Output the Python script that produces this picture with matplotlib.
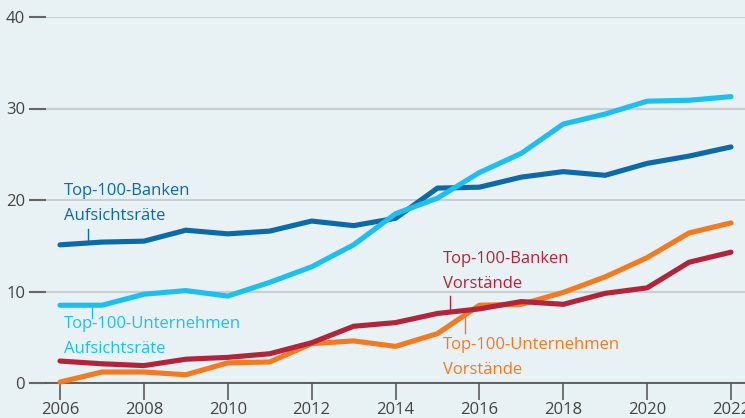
import matplotlib.pyplot as plt

# Anteil Frauen in Prozent
years = list(range(2006, 2023))
banken_ar = [15.1, 15.4, 15.5, 16.7, 16.3, 16.6, 17.7, 17.2, 18.0, 21.3, 21.4, 22.5, 23.1, 22.7, 24.0, 24.8, 25.8]
unt_ar = [8.5, 8.5, 9.7, 10.1, 9.5, 11.0, 12.7, 15.1, 18.5, 20.2, 23.0, 25.1, 28.3, 29.4, 30.8, 30.9, 31.3]
banken_vs = [2.4, 2.1, 1.9, 2.6, 2.8, 3.2, 4.4, 6.2, 6.6, 7.6, 8.1, 8.9, 8.6, 9.8, 10.4, 13.2, 14.3]
unt_vs = [0.1, 1.2, 1.2, 0.9, 2.2, 2.3, 4.3, 4.6, 4.0, 5.4, 8.5, 8.6, 9.9, 11.6, 13.7, 16.4, 17.5]

xticks = [2006, 2008, 2010, 2012, 2014, 2016, 2018, 2020, 2022]
yticks = [0, 10, 20, 30, 40]

c_dblue = '#0b6aa9'
c_lblue = '#1cc0f0'
c_red = '#b3243a'
c_orange = '#f47a20'
bg = '#e8f1f3'

plt.rcParams['font.family'] = ['Open Sans', 'DejaVu Sans']

fig = plt.figure(figsize=(7.45, 4.18), dpi=100, facecolor=bg)
ax = fig.add_axes([46/745, 35/418, 1 - 46/745, 366/418])
ax.set_facecolor(bg)

for vals, col in [(unt_vs, c_orange), (banken_vs, c_red), (banken_ar, c_dblue), (unt_ar, c_lblue)]:
    ax.plot(years, vals, color=col, lw=3.7, solid_capstyle='round', solid_joinstyle='round',
            clip_on=False, zorder=3)

ax.set_xlim(2006 - 14/41.94, 2022 + 14/41.94)
ax.set_ylim(0, 40)

ax.set_yticks(yticks)
ax.set_xticks(xticks)
ax.yaxis.grid(True, color='#c9cfd2', lw=1.6)
ax.set_axisbelow(True)
for s in ['top', 'right', 'left']:
    ax.spines[s].set_visible(False)
ax.spines['bottom'].set_color('#555555')
ax.spines['bottom'].set_linewidth(1.3)
ax.tick_params(axis='y', length=12, width=1.5, color='#666666', pad=3, labelsize=12, labelcolor='#444444')
ax.tick_params(axis='x', length=12, width=1.3, color='#666666', pad=2, labelsize=12, labelcolor='#444444')

# Beschriftungen
def label(x, y, txt, col):
    ax.text(x, y, txt, color=col, fontsize=12, ha='left', va='center', linespacing=1.75, zorder=4)

def leader(x, y0, y1, col):
    ax.plot([x, x], [y0, y1], color=col, lw=1, zorder=2)

label(2006.1, 19.6, 'Top-100-Banken\nAufsichtsräte', c_dblue)
leader(2006.67, 15.4, 16.8, c_dblue)

label(2006.1, 5.1, 'Top-100-Unternehmen\nAufsichtsräte', c_lblue)
leader(2006.76, 8.5, 7.1, c_lblue)

label(2015.13, 12.2, 'Top-100-Banken\nVorstände', c_red)
leader(2015.3, 7.9, 9.5, c_red)

label(2015.13, 2.8, 'Top-100-Unternehmen\nVorstände', c_orange)
leader(2015.66, 7.4, 5.5, c_orange)

fig.savefig('out.png', dpi=100, facecolor=bg)
